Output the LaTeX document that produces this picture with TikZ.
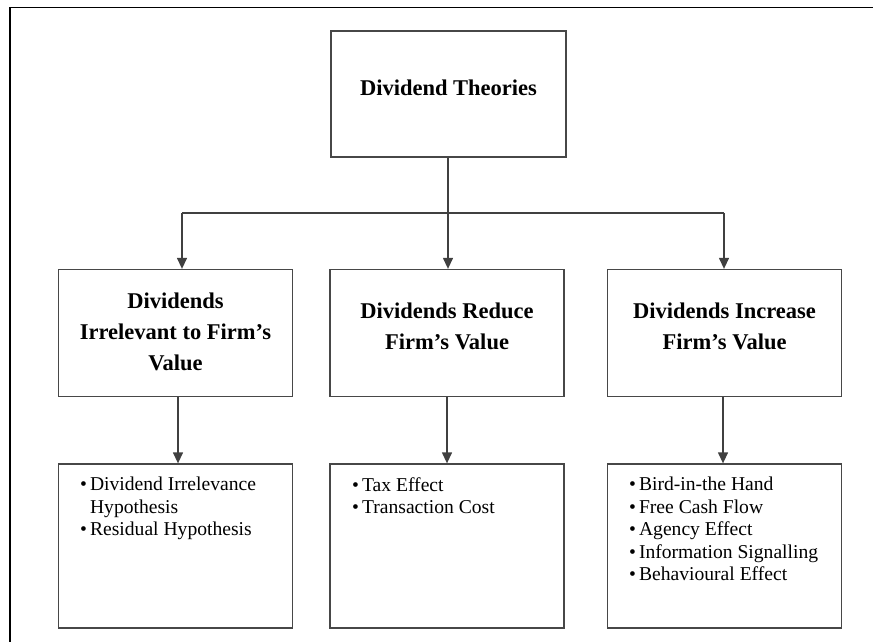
\documentclass[tikz,border=0pt]{standalone}
\usepackage{fontspec}
\setmainfont{Liberation Serif}
\usetikzlibrary{arrows.meta}
\begin{document}
\begin{tikzpicture}[x=1pt,y=-1pt,
  box/.style={draw=black!72, line width=1.3pt, minimum width=234pt, inner sep=0pt},
  head/.style={box, minimum height=127pt},
  headtext/.style={inner sep=0pt, font=\bfseries\fontsize{22.5}{31}\selectfont, align=center},
  listbox/.style={box, minimum height=164pt},
  listtext/.style={anchor=north west, inner sep=0pt, align=left, font=\fontsize{19.6}{22.5}\selectfont},
  conn/.style={draw=black!75, line width=1.3pt},
  arr/.style={conn, -{Triangle[width=10pt,length=11pt]}},
]
\useasboundingbox (0,0) rectangle (873,642);
% outer frame
\draw[line width=1.6pt] (10,642) -- (10,7.5) -- (873,7.5);

\node[head, minimum width=235pt, minimum height=126pt] (T) at (448.5,94) {};
\node[headtext] (Tt) at ([yshift=6pt]T.center) {Dividend Theories};

\node[head] (A) at (175.5,333) {};
\node[headtext] (At) at ([yshift=1pt]A.center) {Dividends\\Irrelevant to Firm’s\\Value};
\node[head] (B) at (447,333) {};
\node[headtext] (Bt) at ([yshift=7pt]B.center) {Dividends Reduce\\Firm’s Value};
\node[head] (C) at (724.5,333) {};
\node[headtext] (Ct) at ([yshift=7pt]C.center) {Dividends Increase\\Firm’s Value};

\node[listbox] (D) at (175.5,546) {};
\node[listbox] (E) at (447,546) {};
\node[listbox] (F) at (724.5,546) {};

\node[listtext] (L1) at (80,477) {\textbullet\hspace{3pt}Dividend Irrelevance\\\phantom{\textbullet\hspace{3pt}}Hypothesis\\\textbullet\hspace{3pt}Residual Hypothesis};
\node[listtext] (L2) at (352,477) {\textbullet\hspace{3pt}Tax Effect\\\textbullet\hspace{3pt}Transaction Cost};
\node[listtext] (L3) at (629,477) {\textbullet\hspace{3pt}Bird-in-the Hand\\\textbullet\hspace{3pt}Free Cash Flow\\\textbullet\hspace{3pt}Agency Effect\\\textbullet\hspace{3pt}Information Signalling\\\textbullet\hspace{3pt}Behavioural Effect};

\coordinate (j) at (448,213);
\coordinate (jl) at (182,213);
\coordinate (jr) at (724,213);

\draw[conn] (T.south -| j) -- (j);
\draw[conn] (jl) -- (jr);
\draw[arr] (jl) -- (jl |- A.north);
\draw[arr] (j) -- (j |- B.north);
\draw[arr] (jr) -- (jr |- C.north);
\draw[arr] ([xshift=2.5pt]A.south) -- ([xshift=2.5pt]D.north);
\draw[arr] (B) -- (E);
\draw[arr] ([xshift=-1.5pt]C.south) -- ([xshift=-1.5pt]F.north);
\end{tikzpicture}
\end{document}
